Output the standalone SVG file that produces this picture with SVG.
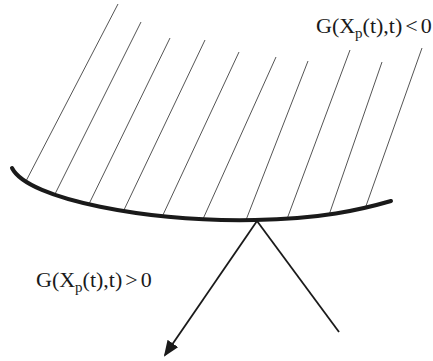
<svg xmlns="http://www.w3.org/2000/svg" width="433" height="361" viewBox="0 0 433 361">
<style>
.hatch{stroke:#555;stroke-width:1;fill:none}
.curve{stroke:#1a1a1a;stroke-width:4;fill:none;stroke-linecap:round}
.ray{stroke:#1a1a1a;stroke-width:1.8;fill:none}
.lbl{font-family:"Liberation Serif",serif;font-size:22px;fill:#1a1a1a}
.sub{font-size:15px}
</style>
<defs>
<marker id="ah" markerWidth="16" markerHeight="13" refX="14" refY="6.5" orient="auto" markerUnits="userSpaceOnUse">
<path d="M0,0 L16,6.5 L0,13 z" fill="#1a1a1a"/>
</marker>
</defs>
<g id="hatching">
<line class="hatch" x1="118" y1="4" x2="25" y2="183"/>
<line class="hatch" x1="141" y1="22" x2="54" y2="196"/>
<line class="hatch" x1="170" y1="38" x2="88" y2="206"/>
<line class="hatch" x1="205" y1="40" x2="123" y2="212"/>
<line class="hatch" x1="239" y1="52" x2="162" y2="217"/>
<line class="hatch" x1="276" y1="57" x2="203" y2="219"/>
<line class="hatch" x1="308" y1="61" x2="246" y2="220"/>
<line class="hatch" x1="350" y1="50" x2="287" y2="219"/>
<line class="hatch" x1="382" y1="62" x2="329" y2="215"/>
<line class="hatch" x1="422" y1="48" x2="366" y2="206"/>
</g>
<g id="surface">
<path class="curve" d="M12,168 C28,200 150,222 255,220 C320,219 360,210 391,201"/>
</g>
<g id="connectors">
<line class="ray" x1="257" y1="221" x2="165" y2="355" marker-end="url(#ah)"/>
<line class="ray" x1="257" y1="221" x2="339" y2="332"/>
</g>
<g id="label-neg">
<text class="lbl" x="316" y="33">G(X<tspan class="sub" dy="5">p</tspan><tspan dy="-5">(t),t)</tspan><tspan dx="3">&lt;</tspan><tspan dx="3">0</tspan></text>
</g>
<g id="label-pos">
<text class="lbl" x="36" y="287">G(X<tspan class="sub" dy="5">p</tspan><tspan dy="-5">(t),t)</tspan><tspan dx="3">&gt;</tspan><tspan dx="3">0</tspan></text>
</g>
</svg>
